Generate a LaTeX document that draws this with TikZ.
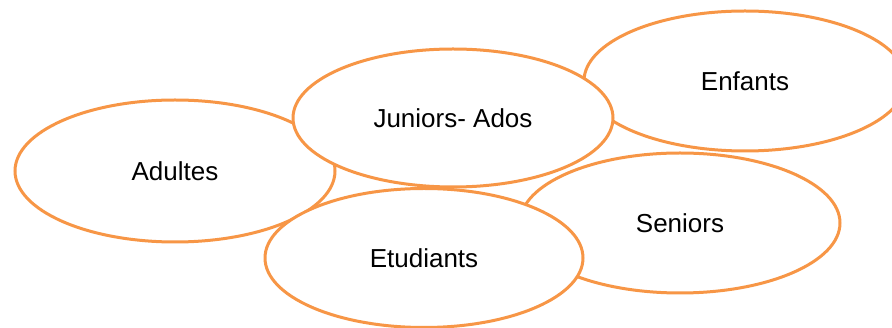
\documentclass[tikz,border=0pt]{standalone}
\usepackage{fontspec}
\setmainfont{Liberation Sans}
\usetikzlibrary{shapes.geometric}
\definecolor{ora}{HTML}{F79646}
\begin{document}
\begin{tikzpicture}[x=1pt,y=-1pt,
  blob/.style={ellipse, draw=ora, fill=white, line width=3pt, inner sep=0pt,
    font=\fontsize{26}{30}\selectfont, text height=18.6pt, text depth=0pt}]
\useasboundingbox (0,0) rectangle (892,328);
\node[blob, minimum width=322pt, minimum height=140pt] (enf) at (745,81) {Enfants};
\node[blob, minimum width=320pt, minimum height=142pt] (adu) at (175,171) {Adultes};
\node[blob, minimum width=320pt, minimum height=140pt] (sen) at (680,223) {Seniors};
\node[blob, minimum width=320pt, minimum height=138pt] (jun) at (453,118) {Juniors- Ados};
\node[blob, minimum width=318pt, minimum height=139pt] (etu) at (424,258) {Etudiants};
\end{tikzpicture}
\end{document}
